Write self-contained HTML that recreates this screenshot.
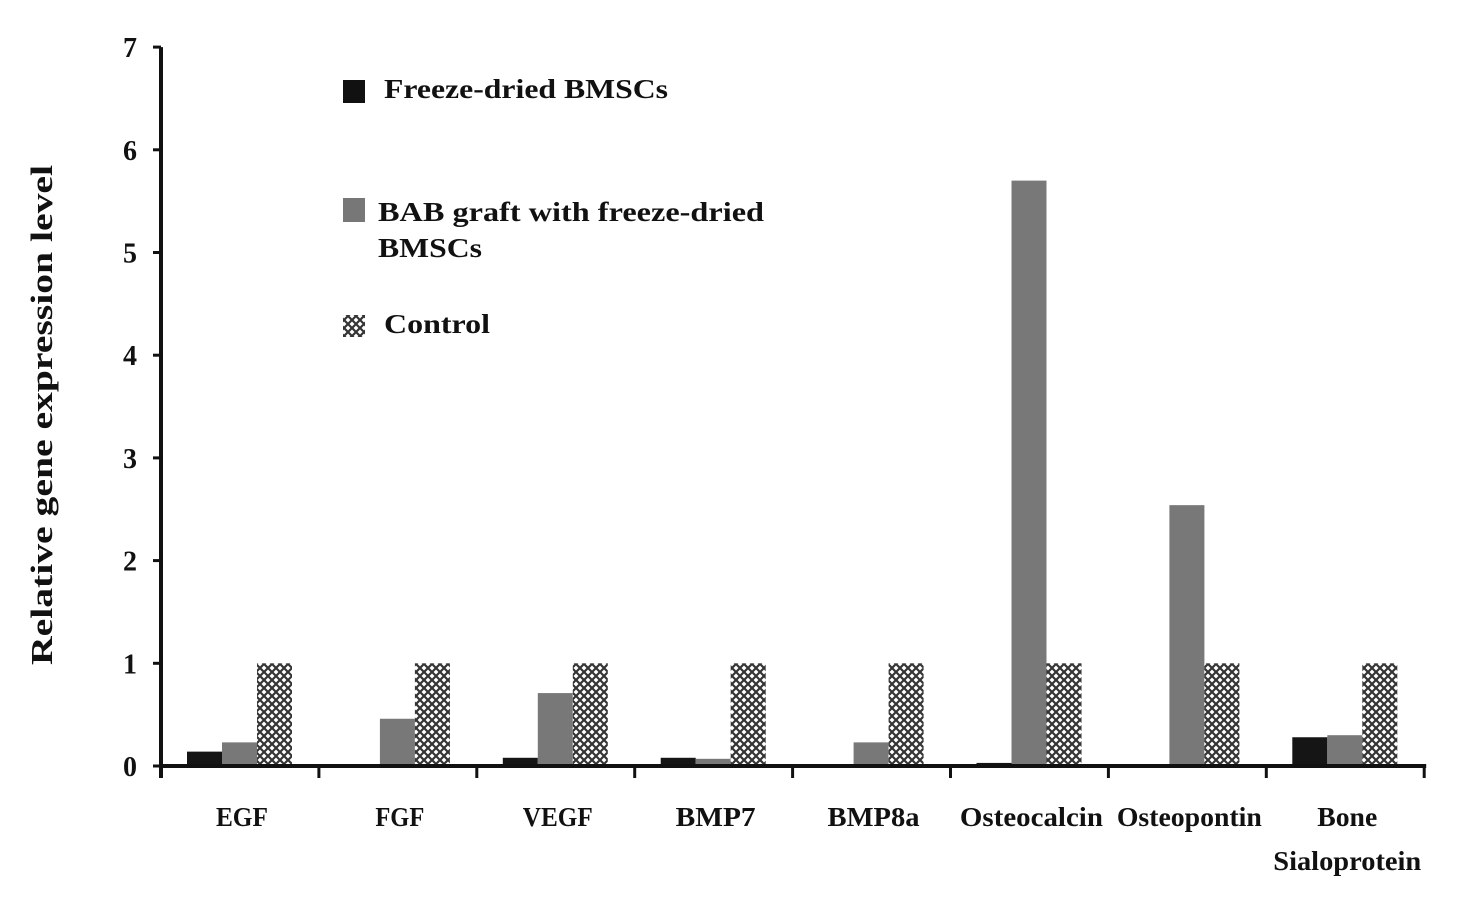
<!DOCTYPE html>
<html><head><meta charset="utf-8"><style>
body{margin:0;background:#fff;}
svg text{font-family:"Liberation Serif",serif;font-weight:bold;fill:#111;}
</style></head><body>
<svg id="chart" width="1469" height="915" viewBox="0 0 1469 915" xmlns="http://www.w3.org/2000/svg">
<defs>
<pattern id="hatch" width="8" height="8" patternUnits="userSpaceOnUse">
<rect width="8" height="8" fill="#fff"/>
<path d="M0,0 L8,8 M8,0 L0,8" stroke="#333" stroke-width="2.2"/>
</pattern>
</defs>
<g id="bars"></g>
<g id="axes"></g>
<text transform="translate(52,415) rotate(-90)" text-anchor="middle" font-size="31" textLength="500" lengthAdjust="spacingAndGlyphs">Relative gene expression level</text>
<g>
<rect x="343" y="80" width="22" height="23" fill="#111"/>
<text x="384" y="98" font-size="27" textLength="284" lengthAdjust="spacingAndGlyphs">Freeze-dried BMSCs</text>
<rect x="343" y="198" width="22" height="24" fill="#777"/>
<text x="378" y="221" font-size="27" textLength="386" lengthAdjust="spacingAndGlyphs">BAB graft with freeze-dried</text>
<text x="378" y="257" font-size="27" textLength="104" lengthAdjust="spacingAndGlyphs">BMSCs</text>
<rect x="343" y="315" width="22" height="22" fill="url(#hatch)"/>
<text x="384" y="333" font-size="27" textLength="106" lengthAdjust="spacingAndGlyphs">Control</text>
</g>
</svg>
<script>
const categories=["EGF","FGF","VEGF","BMP7","BMP8a","Osteocalcin","Osteopontin","Bone|Sialoprotein"];
const freezeDried=[0.14,0,0.08,0.08,0,0.03,0,0.28];
const babGraft=[0.23,0.46,0.71,0.07,0.23,5.7,2.54,0.3];
const control=[1,1,1,1,1,1,1,1];
const yTicks=[0,1,2,3,4,5,6,7];

const NS="http://www.w3.org/2000/svg";
const x0=161,catW=157.9,y0=766,unit=102.7,barW=35;
const labelWidthStyle={"EGF":52,"FGF":49,"VEGF":70,"BMP7":80,"BMP8a":92,"Osteocalcin":143,"Osteopontin":145,"Bone":60,"Sialoprotein":148};
const yS=v=>y0-v*unit;
const xS=i=>x0+i*catW;
function mk(tag,attrs,parent){const e=document.createElementNS(NS,tag);for(const k in attrs)e.setAttribute(k,attrs[k]);parent.appendChild(e);return e;}
const bars=document.getElementById('bars'),axes=document.getElementById('axes');
const series=[[freezeDried,"#151515","freeze-dried"],[babGraft,"#787878","bab-graft"],[control,"url(#hatch)","control"]];
categories.forEach((c,i)=>{
  series.forEach((s,j)=>{
    const v=s[0][i];
    const r=mk('rect',{x:xS(i)+26+j*barW,y:yS(v),width:barW,height:y0-yS(v),fill:s[1]},bars);
    
    
  });
  const lines=c.split('|');
  lines.forEach((ln,k)=>{
    const w=labelWidthStyle[ln]||Math.round(ln.length*12.5);
    const t=mk('text',{x:xS(i)+catW/2+2,y:826+k*44,'text-anchor':'middle','font-size':27,textLength:w,lengthAdjust:'spacingAndGlyphs'},axes);
    t.textContent=ln;
    
    
  });
});
const ya=mk('line',{x1:x0,y1:yS(7),x2:x0,y2:y0+12,stroke:'#111','stroke-width':4},axes);


const xa=mk('line',{x1:x0,y1:y0,x2:x0+8*catW+2,y2:y0,stroke:'#111','stroke-width':4},axes);


for(let i=1;i<=8;i++){mk('line',{x1:xS(i),y1:y0,x2:xS(i),y2:y0+12,stroke:'#111','stroke-width':3},axes);}
yTicks.forEach(v=>{
  mk('line',{x1:x0-8,y1:yS(v),x2:x0,y2:yS(v),stroke:'#111','stroke-width':3},axes);
  const t=mk('text',{x:137,y:yS(v)+10,'text-anchor':'end','font-size':28},axes);
  t.textContent=v;
  
  
});
</script>
</body></html>
